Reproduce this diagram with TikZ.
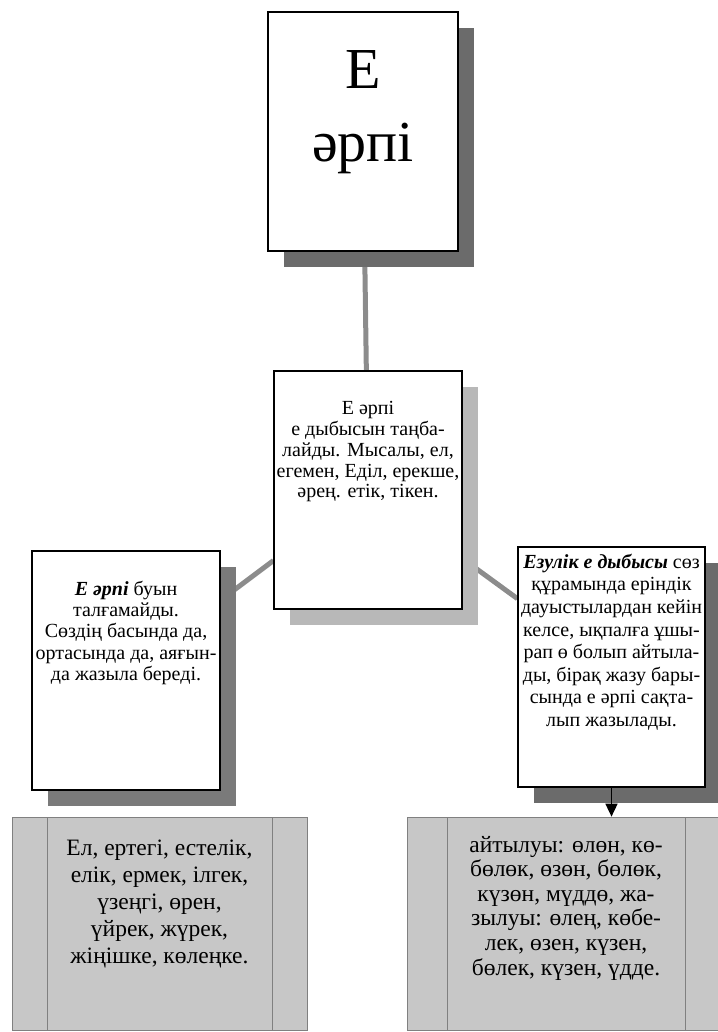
\documentclass[tikz,border=0pt]{standalone}
\usepackage{fontspec}
\setmainfont{Liberation Serif}
\usetikzlibrary{shadows,backgrounds,arrows.meta}

\begin{document}
\begin{tikzpicture}[x=1pt,y=-1pt,
  card/.style={draw, line width=1.2pt, fill=white, inner sep=0pt,
    drop shadow={shadow xshift=16pt, shadow yshift=-16pt, fill=#1, opacity=1}},
  card/.default=black!58,
  sheet/.style={draw=black!50, line width=0.7pt, fill=black!22, inner sep=0pt,
    path picture={\draw[black!50, line width=0.6pt]
      ([xshift=#1]path picture bounding box.north west) -- ([xshift=#1]path picture bounding box.south west)
      ([xshift=-#1]path picture bounding box.north east) -- ([xshift=-#1]path picture bounding box.south east);}},
  link/.style={draw=black!45, line width=5pt}]
\useasboundingbox (0,0) rectangle (717,1032);

\node[card] (top) at (363,131.5) {\parbox[c][239pt][t]{190pt}{\centering\fontsize{58}{73}\selectfont
  \vspace*{38.6pt}Е\\әрпі}};
\node[card=black!28] (mid) at (368,490) {\parbox[c][238pt][t]{188pt}{\centering\fontsize{20}{20.8}\selectfont
  \vspace*{30.4pt}Е әрпі\\е дыбысын таңба-\\лайды. Мысалы, ел,\\егемен, Еділ, ерекше,\\әрең. етік, тікен.}};
\node[card=black!52] (left) at (126,670.5) {\parbox[c][239pt][t]{188pt}{\centering\fontsize{20}{21.3}\selectfont
  \vspace*{30pt}\textbf{\textit{Е әрпі}} буын\\талғамайды.\\Сөздің басында да,\\ортасында да, аяғын-\\да жазыла береді.}};
\node[card] (right) at (611.5,667) {\parbox[c][240pt][t]{187pt}{\centering\fontsize{20}{22.6}\selectfont
  \vspace*{7pt}\textbf{\textit{Езулік е дыбысы}} сөз\\құрамында еріндік\\дауыстылардан кейін\\келсе, ықпалға ұшы-\\рап ө болып айтыла-\\ды, бірақ жазу бары-\\сында е әрпі сақта-\\лып жазылады.}};

\node[sheet=35pt] (exleft) at (159.5,923.5) {\parbox[c][213pt][t]{295pt}{\centering\fontsize{23.5}{27}\selectfont
  \vspace*{23pt}Ел, ертегі, естелік,\\елік, ермек, ілгек,\\үзеңгі, өрен,\\үйрек, жүрек,\\жіңішке, көлеңке.}};
\node[sheet=40pt] (exright) at (566,923.5) {\parbox[c][213pt][t]{318pt}{\centering\fontsize{23.5}{24.6}\selectfont
  \vspace*{19pt}айтылуы: өлөн, кө-\\бөлөк, өзөн, бөлөк,\\күзөн, мүддө, жа-\\зылуы: өлең, көбе-\\лек, өзен, күзен,\\бөлек, күзен, үдде.}};

\begin{pgfonlayer}{background}
\draw[link] (top) -- (mid);
\draw[link] (mid) -- (left);
\draw[link] (mid) -- (right);
\end{pgfonlayer}

\draw [-{Triangle[width=12pt,length=13pt]}, line width=1.6pt] (right.south) -- (right.south |- exright.north);

\end{tikzpicture}
\end{document}
